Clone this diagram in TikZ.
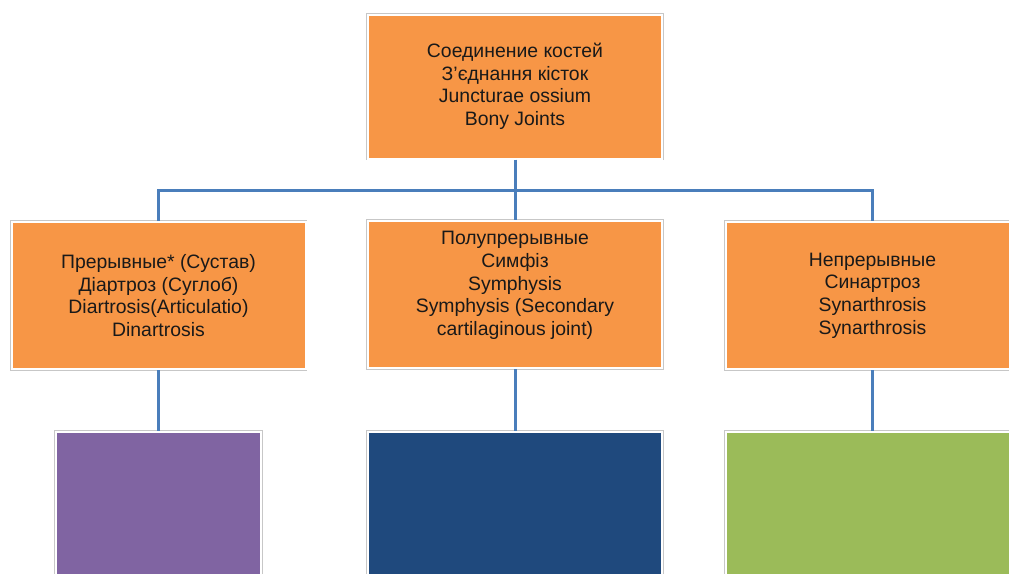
\documentclass[tikz,border=0pt]{standalone}
\usepackage{fontspec}
\setmainfont{Liberation Sans}
\definecolor{boxorange}{HTML}{F79646}
\definecolor{boxpurple}{HTML}{8064A2}
\definecolor{boxnavy}{HTML}{1F497D}
\definecolor{boxgreen}{HTML}{9BBB59}
\definecolor{connblue}{HTML}{4A7EBB}
\begin{document}
\begin{tikzpicture}[x=1pt,y=-1pt,
  txt/.style={align=center, text=black!90, font=\fontsize{19.4}{22.6}\selectfont},
  box/.style={rectangle, inner sep=0pt, minimum width=294pt, minimum height=147pt,
    preaction={draw=black!22, line width=3.6pt}, draw=white, line width=2pt, txt},
  conn/.style={draw=connblue, line width=3pt}]
\useasboundingbox (0,0) rectangle (1009,573);
\clip (0,0) rectangle (1009,573);
\fill[white] (0,0) rectangle (1009,573);
\coordinate (bus) at (515,190);
\node[box, fill=boxorange, minimum height=144pt] (top) at (515,86.5)
  {Соединение костей\\З’єднання кісток\\Juncturae ossium\\Bony Joints};
\node[box, fill=boxorange] (l) at (158.5,295.5)
  {Прерывные* (Сустав)\\Діартроз (Суглоб)\\Diartrosis(Articulatio)\\Dinartrosis};
\node[box, fill=boxorange] (m) at (515,294.5) {};
\node[txt, inner sep=0pt] (mt) at (515,285.5)
  {Полупрерывные\\Симфіз\\Symphysis\\Symphysis (Secondary\\cartilaginous joint)};
\node[box, fill=boxorange] (r) at (872.5,295.5)
  {Непрерывные\\Синартроз\\Synarthrosis\\Synarthrosis};
\node[box, fill=boxpurple, minimum width=205pt, minimum height=170pt, anchor=north] (lb) at (158.5,431) {};
\node[box, fill=boxnavy, minimum height=170pt, anchor=north] (mb) at (515,431) {};
\node[box, fill=boxgreen, minimum height=170pt, anchor=north] (rb) at (872.5,431) {};
\draw[conn] (top.south) -- (m.north);
\draw[conn] (l.north) -- (l.north |- bus) -- (r.north |- bus) -- (r.north);
\draw[conn] (l.south) -- (lb.north);
\draw[conn] (m.south) -- (mb.north);
\draw[conn] (r.south) -- (rb.north);
\end{tikzpicture}
\end{document}
